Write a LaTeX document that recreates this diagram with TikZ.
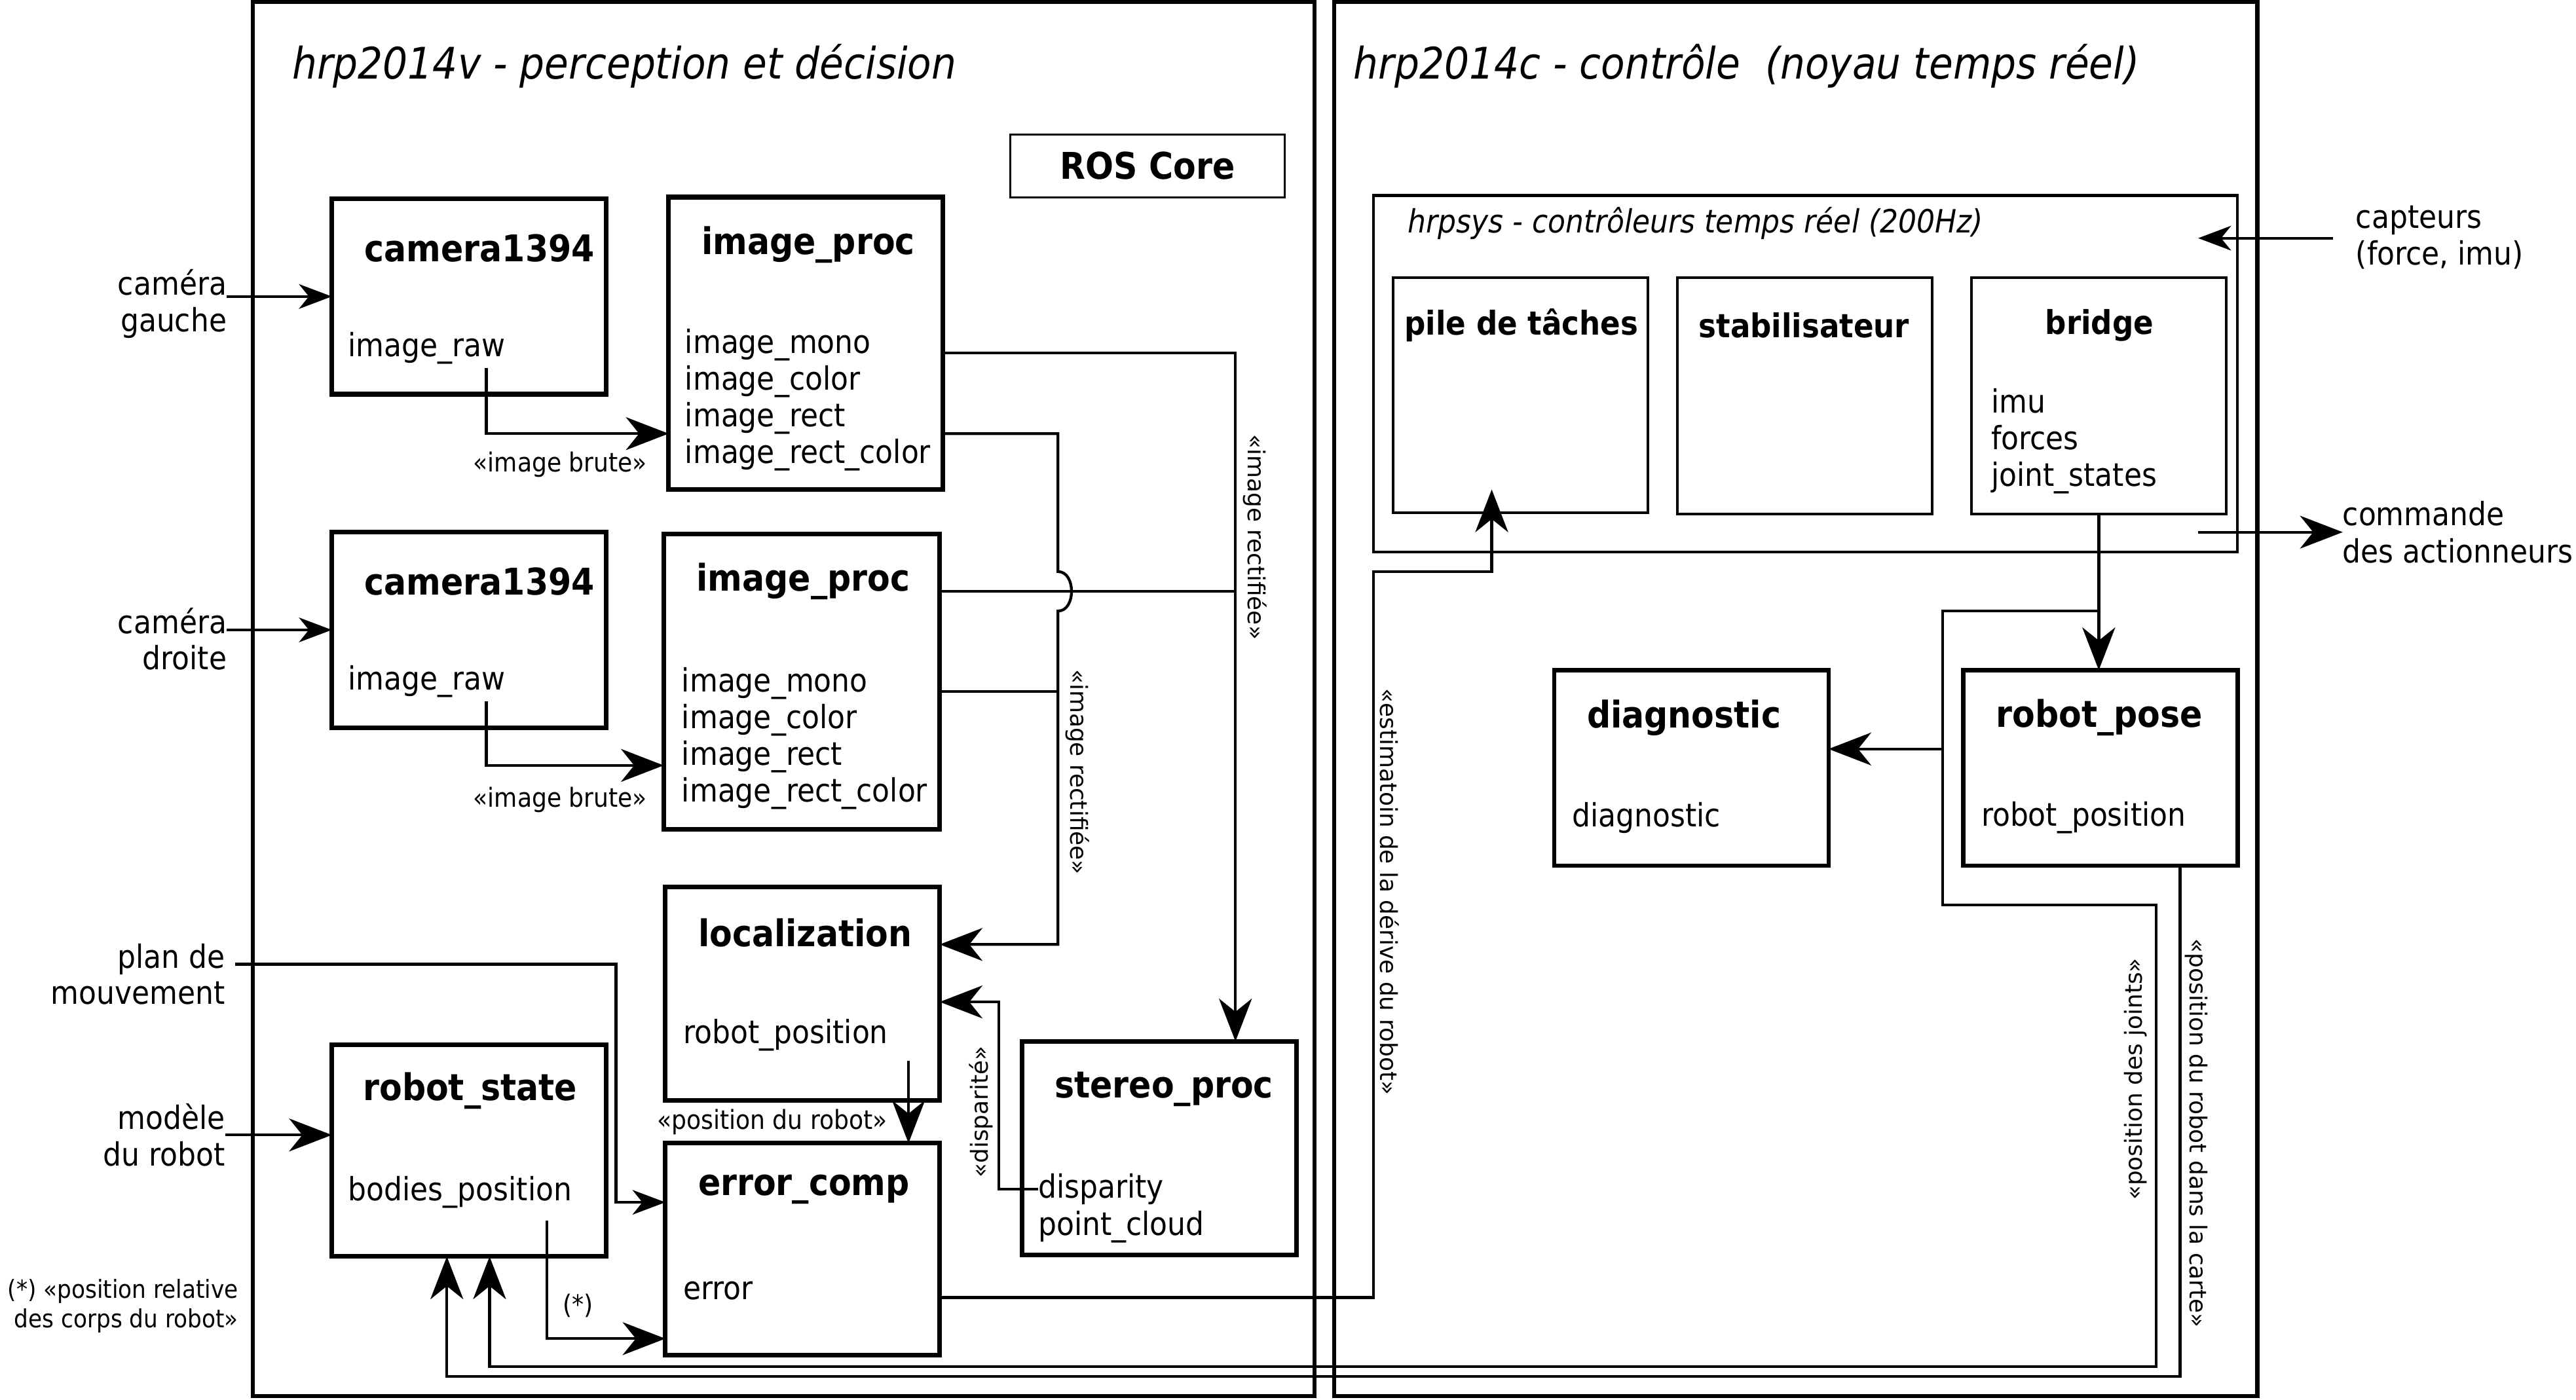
\documentclass[tikz,border=0pt]{standalone}
\usepackage{fontspec}
\setmainfont{DejaVu Sans Condensed}
\newfontfamily\rotfont{DejaVu Sans}
\usetikzlibrary{arrows.meta,positioning,calc}

\begin{document}
\begin{tikzpicture}[x=0.5pt, y=-0.5pt, >={Stealth[length=13pt,width=10pt,inset=4pt]},
  every node/.style={inner sep=0pt, outer sep=0pt},
  hostframe/.style={draw, line width=1.25pt},
  procbox/.style={draw, line width=1.4pt},
  rtbox/.style={draw, line width=0.8pt},
  boxsize/.style 2 args={minimum width=#1*0.5pt, minimum height=#2*0.5pt},
  heading/.style={anchor=west, font=\fontsize{13.25}{16}\selectfont\itshape},
  ttl/.style={anchor=west, font=\fontsize{11.2}{13}\selectfont\bfseries},
  rtttl/.style={anchor=west, font=\fontsize{10}{12}\selectfont\bfseries},
  topic/.style={anchor=west, align=left, font=\fontsize{9.75}{11.2}\selectfont},
  ext/.style={anchor=east, align=right, font=\fontsize{9.75}{11}\selectfont},
  msg/.style={font=\fontsize{8}{9}\selectfont},
  vmsg/.style={font=\rotfont\fontsize{7.15}{8.5}\selectfont},
  wire/.style={line width=0.85pt},
  small tip/.style={>={Stealth[length=10pt,width=7.5pt,inset=3pt]}}]
\useasboundingbox (0,0) rectangle (1568,852);

% machines
\node[hostframe, boxsize={646}{849}] (vision) at (477,425.5) {};
\node[hostframe, boxsize={562}{849}] (control) at (1093,425.5) {};
\node[heading] (visiontitle) at (178,40) {hrp2014v - perception et décision};
\node[heading] (controltitle) at (824,40) {hrp2014c - contrôle~ (noyau temps réel)};

% ROS
\node[draw, line width=0.6pt, boxsize={167}{38}, font=\fontsize{11.2}{13}\selectfont\bfseries] (roscore) at (698.5,101) {ROS Core};

\node[procbox, boxsize={167}{119}] (cam1) at (285.5,180.5) {};
\node[ttl] (cam1name) at (222,151) {camera1394};
\node[topic] (cam1raw) at (212,212) {image\_raw};

\node[procbox, boxsize={167}{178}] (proc1) at (490.5,209) {};
\node[ttl] (proc1name) at (427,149) {image\_proc};
\node[topic] (proc1out) at (417,243.5) {image\_mono\\image\_color\\image\_rect\\image\_rect\_color};

\node[procbox, boxsize={167}{119}] (cam2) at (285.5,383.5) {};
\node[ttl] (cam2name) at (222,354) {camera1394};
\node[topic] (cam2raw) at (212,415) {image\_raw};

\node[procbox, boxsize={168}{180}] (proc2) at (488,415) {};
\node[ttl] (proc2name) at (424,354) {image\_proc};
\node[topic] (proc2out) at (415,449.5) {image\_mono\\image\_color\\image\_rect\\image\_rect\_color};

\node[procbox, boxsize={167}{130}] (loc) at (488.5,605) {};
\node[ttl] (locname) at (425,568) {localization};
\node[topic] (locout) at (416,630) {robot\_position};

\node[procbox, boxsize={167}{129}] (err) at (488.5,760.5) {};
\node[ttl] (errname) at (425,724) {error\_comp};
\node[topic] (errout) at (416,786) {error};

\node[procbox, boxsize={167}{130}] (stereo) at (705.5,699) {};
\node[ttl] (stereoname) at (642,663) {stereo\_proc};
\node[topic] (disparity) at (632,724) {disparity};
\node[topic] (cloud) at (632,747) {point\_cloud};

\node[procbox, boxsize={167}{129}] (rstate) at (285.5,700.5) {};
\node[ttl] (rstatename) at (221,664) {robot\_state};
\node[topic] (rstateout) at (212,726) {bodies\_position};

% hrpsys
\node[rtbox, boxsize={526}{217}] (hrpsys) at (1099,227.5) {};
\node[anchor=west, font=\fontsize{9.75}{11}\selectfont\itshape] (hrpsysname) at (857,136) {hrpsys - contrôleurs temps réel (200Hz)};
\node[rtbox, boxsize={155}{143}] (pile) at (925.5,240.5) {};
\node[rtttl] (pilename) at (855,198) {pile de tâches};
\node[rtbox, boxsize={155}{144}] (stab) at (1098.5,241) {};
\node[rtttl] (stabname) at (1034,198) {stabilisateur};
\node[rtbox, boxsize={155}{144}] (bridge) at (1277.5,241) {};
\node[rtttl] (bridgename) at (1245,198) {bridge};
\node[topic] (bridgeout) at (1212,268.5) {imu\\forces\\joint\_states};

\node[procbox, line width=1.3pt, boxsize={167}{119}] (diag) at (1029.5,467.5) {};
\node[ttl] (diagname) at (966,437) {diagnostic};
\node[topic] (diagout) at (957,498) {diagnostic};
\node[procbox, line width=1.3pt, boxsize={167}{119}] (rpose) at (1278.5,467.5) {};
\node[ttl] (rposename) at (1215,437) {robot\_pose};
\node[topic] (rposeout) at (1206,498) {robot\_position};

% outside
\node[ext] (camg) at (138,185) {caméra\\gauche};
\node[ext] (camd) at (138,389) {caméra\\droite};
\node[ext] (plan) at (137,593) {plan de\\mouvement};
\node[ext] (model) at (137,691) {modèle\\du robot};
\node[anchor=east, align=right, font=\fontsize{7.6}{9}\selectfont] (note) at (145,795) {(*) «position relative\\des corps du robot»};
\node[topic] (capt) at (1434,144.5) {capteurs\\(force, imu)};
\node[topic] (cmd) at (1426,324) {commande\\des actionneurs};

% perception links
\draw[wire, small tip, ->] (camg.east |- cam1.west) -- (cam1.west);
\draw[wire, small tip, ->] (camd.east |- cam2.west) -- (cam2.west);
\draw[wire, small tip, ->] ([shift={(3pt,3pt)}]plan.east) -- ++(232,0) |- ([yshift=14.25pt]err.west);
\draw[wire, ->] (model.east) -- (model.east -| rstate.west);
\draw[wire, ->] ([shift={(5.25pt,8pt)}]cam1.south) |- ([yshift=-27.5pt]proc1.west);
\draw[wire, ->] ([shift={(5.25pt,8pt)}]cam2.south) |- ([yshift=-25.5pt]proc2.west);
\draw[wire, ->] ([yshift=-3pt]proc1.east) -| ([xshift=23.25pt]stereo.north);
\draw[wire, ->] ([yshift=-27.5pt]proc1.east) -- ++(70,0) -- ++(0,84)
  .. controls +(11,0) and +(11,0) .. ++(0,24) |- ([yshift=15pt]loc.east);
\draw[wire] ([yshift=27.5pt]proc2.east) -- ++(180,0);
\draw[wire] ([yshift=-3pt]proc2.east) -- ++(72,0);
\draw[wire, ->] (disparity.west) -- ++(-24,0) |- ([yshift=-2.5pt]loc.east);
\draw[wire, ->] ([shift={(32.25pt,12pt)}]loc.south) -- ([xshift=32.25pt]err.north);
\draw[wire, ->] ([shift={(23.75pt,11pt)}]rstate.south) |- ([yshift=-27.25pt]err.west);
\draw[wire, ->] ([yshift=-14.75pt]err.east) -- ++(264,0) |- ++(72,-442) -- ([shift={(-8.75pt,7pt)}]pile.south);

% control links
\draw[wire, small tip, <-] ([shift={(-12pt,-13pt)}]hrpsys.north east) -- ++(82,0);
\draw[wire, ->] ([shift={(-12pt,6pt)}]hrpsys.south east) -- (cmd.west);
\draw[wire, ->] (bridge.south) -- (bridge.south |- rpose.north);
\coordinate (split) at ($(bridge.south)!0.62!(bridge.south |- rpose.north)$);
\draw[wire, ->] (split) -- ++(-95,0) -- ++(0,179) -- ++(130,0) -- ++(0,281) -| ([xshift=6.25pt]rstate.south);
\draw[wire, <-] ([yshift=5.75pt]diag.east) -- ++(70,0);
\draw[wire, ->] ([xshift=24.25pt]rpose.south) -- ++(0,311) -| ([xshift=-6.75pt]rstate.south);

% messages
\node[msg] (rawlbl1) at (341,283) {«image brute»};
\node[msg] (rawlbl2) at (341,487) {«image brute»};
\node[vmsg, rotate=-90] (rectlbl1) at (764,327) {«image rectifiée»};
\node[vmsg, rotate=-90] (rectlbl2) at (656,470) {«image rectifiée»};
\node[vmsg, rotate=90] (displbl) at (597,677) {«disparité»};
\node[msg] (poslbl) at (470,683) {«position du robot»};
\node[msg] (starlbl) at (352,795) {(*)};
\node[vmsg, rotate=-90] (driftlbl) at (846,543) {«estimatoin de la dérive du robot»};
\node[vmsg, rotate=90] (jointlbl) at (1300,657) {«position des joints»};
\node[vmsg, rotate=-90] (maplbl) at (1337,690) {«position du robot dans la carte»};
\end{tikzpicture}
\end{document}
